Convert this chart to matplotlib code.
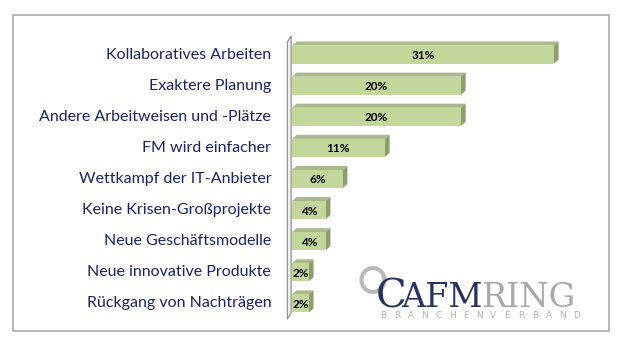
import matplotlib
matplotlib.use("Agg")
from matplotlib import pyplot as plt
from matplotlib.patches import Polygon, Rectangle, Ellipse

categories = ["Kollaboratives Arbeiten", "Exaktere Planung", "Andere Arbeitweisen und -Plätze",
              "FM wird einfacher", "Wettkampf der IT-Anbieter", "Keine Krisen-Großprojekte",
              "Neue Geschäftsmodelle", "Neue innovative Produkte", "Rückgang von Nachträgen"]
values = [31, 20, 20, 11, 6, 4, 4, 2, 2]
value_labels = ["31%", "20%", "20%", "11%", "6%", "4%", "4%", "2%", "2%"]

W, H = 624, 358
fig = plt.figure(figsize=(W / 100, H / 100), dpi=100)
fig.patch.set_facecolor("white")

def fx(px):
    return px / W

def fy(py):
    return 1 - py / H

# outer frame
fig.patches.append(Rectangle((fx(13), fy(331)), fx(609) - fx(13), fy(15) - fy(331),
                             transform=fig.transFigure, fill=False, edgecolor="#aaaaaa", lw=1.2))

ax = fig.add_axes([fx(292), fy(319), fx(292 + 8.45 * 35) - fx(292), fy(39) - fy(319)])
ax.set_xlim(0, 35)
ax.set_ylim(8.5, -0.5)
ax.axis("off")

front = "#c3d69b"
top = "#a8b98a"
side = "#8c9d6e"
dx, dy = 0.55, 0.13
h = 0.58

# side wall
wall = Polygon([(-0.55, 8.5), (-0.1, 8.3), (-0.1, -0.6), (-0.55, -0.4)], closed=True,
               facecolor="#f0f0f0", edgecolor="#8a8a8a", lw=0.8, clip_on=False)
ax.add_patch(wall)

for i, v in enumerate(values):
    y0 = i - h / 2
    ax.add_patch(Polygon([(0, y0), (dx, y0 - dy), (v + dx, y0 - dy), (v, y0)],
                         facecolor=top, edgecolor="none", clip_on=False))
    ax.add_patch(Polygon([(v, y0), (v + dx, y0 - dy), (v + dx, y0 + h - dy), (v, y0 + h)],
                         facecolor=side, edgecolor="none", clip_on=False))
    ax.add_patch(Rectangle((0, y0), v, h, facecolor=front, edgecolor="none", clip_on=False))
    ax.text(v / 2, i + 0.03, value_labels[i], ha="center", va="center", fontsize=8.5,
            fontweight="bold", family="Lato", color="black")

# category labels
for i, c in enumerate(categories):
    ax.annotate(c, xy=(0, i), xycoords="data", xytext=(-15, 0), textcoords="offset points",
                ha="right", va="center", fontsize=11.5, family="Lato", color="#19235f")

# logo
fig.patches.append(Ellipse((fx(373), fy(280)), 23 / W, 24 / H, transform=fig.transFigure,
                           fill=False, edgecolor="#b8b8b8", lw=3))
fig.text(fx(376), fy(308), "C", fontsize=29, family="DejaVu Serif", color="#27325f")
fig.text(fx(401), fy(307), "AFM", fontsize=24, family="DejaVu Serif", color="#27325f")
fig.text(fx(481), fy(307), "RING", fontsize=24, family="DejaVu Serif", color="#a9a9a9")
for k, ch in enumerate("BRANCHENVERBAND"):
    fig.text(fx(383 + k * 13.8), fy(318.5), ch, fontsize=6.5, family="DejaVu Sans",
             color="#b0b0b0", ha="center")

fig.savefig("out.png", dpi=100)
